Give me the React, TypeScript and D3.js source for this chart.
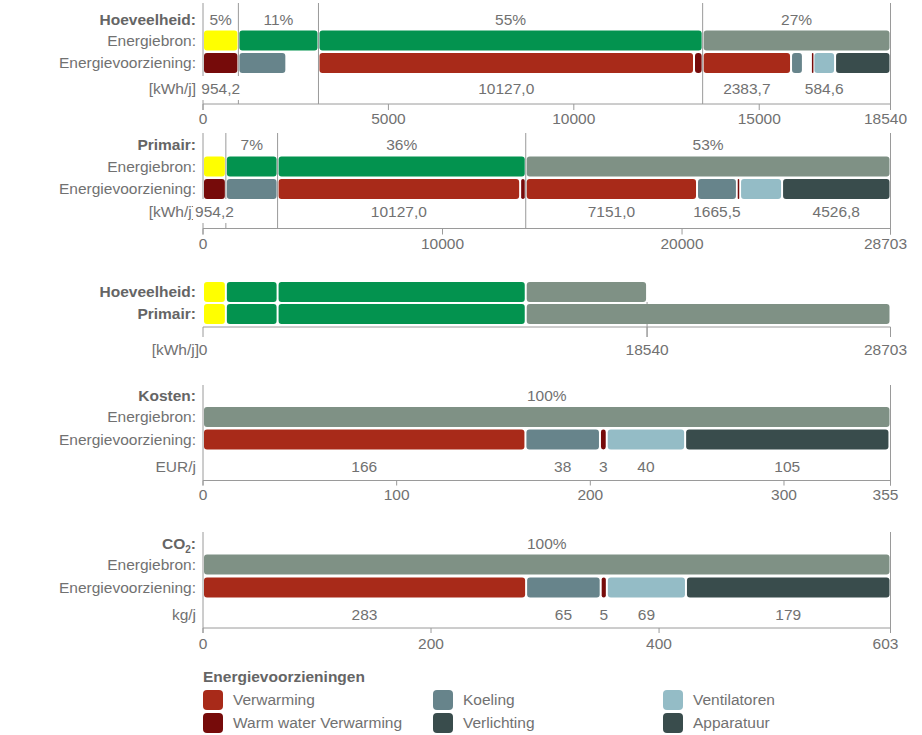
import React from 'react';
import * as d3 from 'd3';

// ---------- DATA ----------
const sourceCats = ['zon', 'groen', 'groen', 'fossiel'];

const hoeveelheidSources = [954.2, 2160, 10360, 5065.8];
const hoeveelheidSupplyCats = ['warmwater', 'koeling', 'gap', 'verwarming', 'warmwater', 'verwarming', 'koeling', 'gap', 'warmwater', 'ventilatoren', 'apparatuur'];
const hoeveelheidSupplyValues = [954.2, 1293, 867, 10127.0, 233, 2383.7, 320, 243, 40, 584.6, 1494.5];
const hoeveelheidSupplyShown = [true, false, false, true, false, true, false, false, false, true, false];
const hoeveelheidTicks = [0, 5000, 10000, 15000, 18540];

const primairSources = [954.2, 2160, 10360, 15228.8];
const primairSupplyCats = ['warmwater', 'koeling', 'verwarming', 'warmwater', 'verwarming', 'koeling', 'warmwater', 'ventilatoren', 'apparatuur'];
const primairSupplyValues = [954.2, 2160, 10127.0, 233, 7151.0, 1665.5, 131.7, 1753.8, 4526.8];
const primairSupplyShown = [true, false, true, false, true, true, false, false, true];
const primairTicks = [0, 10000, 20000, 28703];

const compareRows = ['Hoeveelheid:', 'Primair:'];
const compareTicks = [0, 18540, 28703];

const kostenSources = [355];
const kostenSourceCats = ['fossiel'];
const kostenSupplyCats = ['verwarming', 'koeling', 'warmwater', 'ventilatoren', 'apparatuur'];
const kostenSupplyValues = [166.49, 38.49, 3.49, 40.49, 105.49];
const kostenSupplyShown = [true, true, true, true, true];
const kostenTicks = [0, 100, 200, 300, 355];

const co2Sources = [603];
const co2SourceCats = ['fossiel'];
const co2SupplyCats = ['verwarming', 'koeling', 'warmwater', 'ventilatoren', 'apparatuur'];
const co2SupplyValues = [283.4, 65.4, 5.4, 69.4, 179.4];
const co2SupplyShown = [true, true, true, true, true];
const co2Ticks = [0, 200, 400, 603];

const legendTitle = 'Energievoorzieningen';
const legendKeys = ['verwarming', 'warmwater', 'koeling', 'verlichting', 'ventilatoren', 'apparatuur'];
const legendNames = ['Verwarming', 'Warm water Verwarming', 'Koeling', 'Verlichting', 'Ventilatoren', 'Apparatuur'];

// ---------- STYLE ----------
const COLOR: Record<string, string> = {
  zon: '#ffff00',
  groen: '#03934f',
  fossiel: '#7f9185',
  verwarming: '#a82a19',
  warmwater: '#760b0a',
  koeling: '#67848b',
  ventilatoren: '#94bcc6',
  verlichting: '#394c4c',
  apparatuur: '#394c4c',
};
const TEXT = '#717171';
const TITLE = '#656565';
const LINE = '#9a9a9a';
const FONT = '"Liberation Sans", Arial, Helvetica, sans-serif';
const FS = 15.5;
const X0 = 203;
const X1 = 890.5;

const nl = d3.formatLocale({ decimal: ',', thousands: '', grouping: [3], currency: ['€', ''] });
const fmt1 = nl.format('.1f');
const fmt0 = nl.format('.0f');

function textW(s: string) {
  let w = 0;
  for (const c of s) w += (c === ',' || c === '.' ? 0.278 : 0.556) * FS;
  return w;
}

function stack(cats: string[], values: number[]) {
  let acc = 0;
  return values.map((v, i) => {
    const s = { cat: cats[i], value: v, start: acc, end: acc + v, i };
    acc += v;
    return s;
  });
}

function Seg({ x, a, b, y, h, color }: any) {
  const xa = x(a), xb = x(b);
  let w = xb - xa - 2;
  let left = xa + 1;
  if (w < 1.5) { w = 1.5; left = (xa + xb) / 2 - 0.75; }
  const rx = Math.min(3, w / 2);
  return <rect x={left} y={y} width={w} height={h} rx={rx} ry={rx} fill={color} />;
}

function Panel(p: any) {
  const total = d3.sum(p.sources as number[]);
  const x = d3.scaleLinear().domain([0, total]).range([X0, X1]);
  const src = stack(p.sourceCats, p.sources);
  const sup = stack(p.supplyCats, p.supplyValues);
  const bounds = [0, ...src.map((s) => s.end)];
  const barH = 20;
  const rowLabelX = 196;
  return (
    <g>
      {bounds.map((b, i) => (
        <line key={'l' + i} x1={x(b)} x2={x(b)} y1={p.top}
          y2={i === 0 || i === bounds.length - 1 ? p.axisY + p.tickLen : p.axisY}
          stroke={LINE} strokeWidth={1} />
      ))}
      <line x1={X0} x2={X1} y1={p.axisY} y2={p.axisY} stroke={LINE} strokeWidth={1} />
      {p.ticks.map((t: number, i: number) => (
        <g key={'t' + i}>
          <line x1={x(t)} x2={x(t)} y1={p.axisY} y2={p.axisY + p.tickLen} stroke={LINE} />
          <text x={i === p.ticks.length - 1 ? x(t) - 5 : x(t)} y={p.tickLabelY} dy="0.35em"
            textAnchor="middle" fontSize={FS} fill={TEXT}>{String(t)}</text>
        </g>
      ))}
      <text x={rowLabelX} y={p.titleY} dy="0.35em" textAnchor="end" fontSize={FS} fontWeight="bold" fill={TITLE}>
        {p.titleSub ? (<>{p.title}<tspan fontSize={10} dy={4}>{p.titleSub}</tspan><tspan dy={-4}>:</tspan></>) : p.title}
      </text>
      <text x={rowLabelX} y={p.bar1 + barH / 2} dy="0.35em" textAnchor="end" fontSize={FS} fill={TEXT}>Energiebron:</text>
      <text x={rowLabelX} y={p.bar2 + barH / 2} dy="0.35em" textAnchor="end" fontSize={FS} fill={TEXT}>Energievoorziening:</text>
      <text x={rowLabelX} y={p.labelY} dy="0.35em" textAnchor="end" fontSize={FS} fill={TEXT}>{p.unit}</text>
      {src.map((s) => {
        const w = x(s.end) - x(s.start);
        if (w < 30) return null;
        return (
          <text key={'p' + s.i} x={(x(s.start) + x(s.end)) / 2} y={p.titleY} dy="0.35em"
            textAnchor="middle" fontSize={FS} fill={TEXT}>{Math.floor((s.value / total) * 100 + 1e-9) + '%'}</text>
        );
      })}
      {src.map((s) => (
        <Seg key={'s' + s.i} x={x} a={s.start} b={s.end} y={p.bar1} h={barH} color={COLOR[s.cat]} />
      ))}
      {sup.map((s) => s.cat === 'gap' ? null : (
        <Seg key={'v' + s.i} x={x} a={s.start} b={s.end} y={p.bar2} h={barH} color={COLOR[s.cat]} />
      ))}
      {sup.map((s) => {
        if (!p.shown[s.i]) return null;
        const str = p.fmt(s.value);
        const cx = (x(s.start) + x(s.end)) / 2;
        const w = textW(str);
        return (
          <g key={'vl' + s.i}>
            <rect x={cx - w / 2 - 2} y={p.labelY - 13} width={w + 4} height={24} fill="#fff" />
            <text x={cx} y={p.labelY} dy="0.35em" textAnchor="middle" fontSize={FS} fill={TEXT}>{str}</text>
          </g>
        );
      })}
    </g>
  );
}

function ComparePanel(p: any) {
  const total = d3.sum(primairSources);
  const x = d3.scaleLinear().domain([0, total]).range([X0, X1]);
  const rows = [stack(sourceCats, hoeveelheidSources), stack(sourceCats, primairSources)];
  const barH = 20;
  const hoeveelheidTotal = d3.sum(hoeveelheidSources);
  return (
    <g>
      <line x1={x(hoeveelheidTotal)} x2={x(hoeveelheidTotal)} y1={p.bars[0] + barH} y2={p.axisY + 10} stroke={LINE} />
      <line x1={X0} x2={X1} y1={p.axisY} y2={p.axisY} stroke={LINE} />
      {compareTicks.map((t, i) => (
        <g key={'ct' + i}>
          <line x1={x(t)} x2={x(t)} y1={p.axisY} y2={p.axisY + 10} stroke={LINE} />
          <text x={i === compareTicks.length - 1 ? x(t) - 5 : x(t)} y={p.tickLabelY} dy="0.35em" textAnchor="middle" fontSize={FS} fill={TEXT}>{String(t)}</text>
        </g>
      ))}
      <text x={199} y={p.tickLabelY} dy="0.35em" textAnchor="end" fontSize={FS} fill={TEXT}>[kWh/j]</text>
      {rows.map((row, r) => (
        <g key={'r' + r}>
          <text x={196} y={p.bars[r] + barH / 2} dy="0.35em" textAnchor="end" fontSize={FS} fontWeight="bold" fill={TITLE}>{compareRows[r]}</text>
          {row.map((s) => (
            <Seg key={s.i} x={x} a={s.start} b={s.end} y={p.bars[r]} h={barH} color={COLOR[s.cat]} />
          ))}
        </g>
      ))}
    </g>
  );
}

function Legend() {
  const cols = [203, 433, 663];
  const rows = [690, 713];
  return (
    <g>
      <text x={203} y={677} dy="0.35em" fontSize={FS} fontWeight="bold" fill={TITLE}>{legendTitle}</text>
      {legendKeys.map((k, i) => {
        const cx = cols[Math.floor(i / 2)];
        const cy = rows[i % 2];
        return (
          <g key={k}>
            <rect x={cx} y={cy} width={20} height={20} rx={4} fill={COLOR[k]} />
            <text x={cx + 30} y={cy + 10} dy="0.35em" fontSize={FS} fill={TEXT}>{legendNames[i]}</text>
          </g>
        );
      })}
    </g>
  );
}

export default function App() {
  return (
    <svg width={922} height={735} style={{ position: 'absolute', left: 0, top: 0, fontFamily: FONT, background: '#fff' }}>
      <Panel title="Hoeveelheid:" unit="[kWh/j]" top={3} titleY={20} bar1={30.5} bar2={53} labelY={89} axisY={104} tickLabelY={119} tickLen={6}
        sources={hoeveelheidSources} sourceCats={sourceCats}
        supplyCats={hoeveelheidSupplyCats} supplyValues={hoeveelheidSupplyValues} shown={hoeveelheidSupplyShown}
        ticks={hoeveelheidTicks} fmt={fmt1} />
      <Panel title="Primair:" unit="[kWh/j]" top={133} titleY={145} bar1={156.5} bar2={179} labelY={212} axisY={228.5} tickLabelY={244} tickLen={6}
        sources={primairSources} sourceCats={sourceCats}
        supplyCats={primairSupplyCats} supplyValues={primairSupplyValues} shown={primairSupplyShown}
        ticks={primairTicks} fmt={fmt1} />
      <ComparePanel bars={[282, 304]} axisY={327} tickLabelY={350} />
      <Panel title="Kosten:" unit="EUR/j" top={385} titleY={396} bar1={407} bar2={429.5} labelY={467} axisY={480.5} tickLabelY={495} tickLen={5}
        sources={kostenSources} sourceCats={kostenSourceCats}
        supplyCats={kostenSupplyCats} supplyValues={kostenSupplyValues} shown={kostenSupplyShown}
        ticks={kostenTicks} fmt={fmt0} />
      <Panel title="CO" titleSub="2" unit="kg/j" top={532} titleY={544} bar1={554.5} bar2={577.5} labelY={615} axisY={628} tickLabelY={644} tickLen={5}
        sources={co2Sources} sourceCats={co2SourceCats}
        supplyCats={co2SupplyCats} supplyValues={co2SupplyValues} shown={co2SupplyShown}
        ticks={co2Ticks} fmt={fmt0} />
      <Legend />
    </svg>
  );
}
